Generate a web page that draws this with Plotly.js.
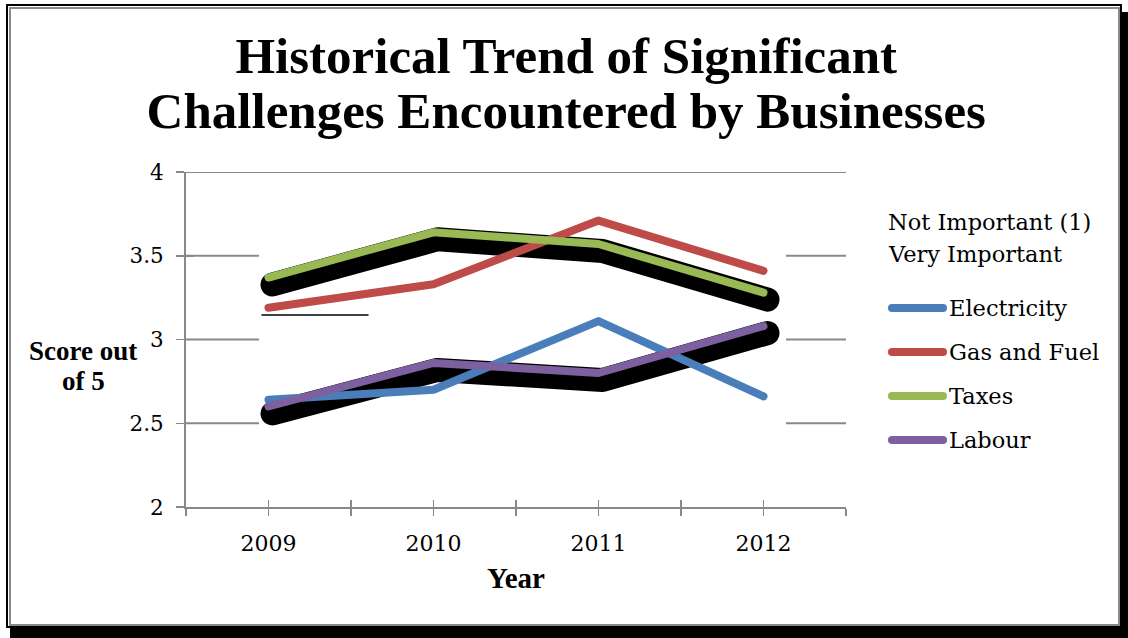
<!DOCTYPE html>
<html>
<head>
<meta charset="utf-8">
<script src="https://cdn.plot.ly/plotly-3.0.1.min.js"></script>
<style>
  html, body { margin: 0; padding: 0; background: #ffffff; }
  #chart { width: 1128px; height: 638px; }
  .scatterlayer path.js-line { stroke-linecap: round !important; stroke-linejoin: round !important; }
  .layer-above .shapelayer path { stroke-linecap: round !important; }
</style>
</head>
<body>
<div id="chart"></div>
<script>
// ---- data ----
var years = ['2009', '2010', '2011', '2012'];
var electricity = [2.64, 2.70, 3.11, 2.66];
var gasFuel = [3.19, 3.33, 3.71, 3.41];
var taxes = [3.37, 3.64, 3.57, 3.28];
var labour = [2.60, 2.86, 2.80, 3.08];
var seriesNames = ['Electricity', 'Gas and Fuel', 'Taxes', 'Labour'];
var seriesColors = ['#4A7EBB', '#BE4B48', '#98B954', '#7D60A0'];
var yTicks = [2, 2.5, 3, 3.5, 4];
var legendTitle = ['Not Important (1)', 'Very Important'];

// ---- layout geometry (pixels) ----
var W = 1128, H = 638;
var L = 186, R = 846, T = 172, B = 507;
function px(x) { return (x - L) / (R - L); }
function py(y) { return (B - y) / (B - T); }

var xIdx = years.map(function (_, i) { return i; });
var tickPos = [], tickTxt = [];
for (var i = 0; i < years.length; i++) {
  tickPos.push(i - 0.5); tickTxt.push('');
  tickPos.push(i); tickTxt.push(years[i]);
}
tickPos.push(years.length - 0.5); tickTxt.push('');

var allSeries = [electricity, gasFuel, taxes, labour];
var traces = [];
// shadows (drawn under, offset after render)
[2, 3].forEach(function (k) {
  traces.push({
    x: xIdx, y: allSeries[k], type: 'scatter', mode: 'lines',
    line: { color: '#000000', width: 24 }, hoverinfo: 'skip', showlegend: false,
    xaxis: 'x', yaxis: 'y'
  });
});
allSeries.forEach(function (s, k) {
  traces.push({
    x: xIdx, y: s, type: 'scatter', mode: 'lines', name: seriesNames[k],
    line: { color: seriesColors[k], width: 8 }, showlegend: false,
    xaxis: 'x2', yaxis: 'y2'
  });
});

var serif = 'DejaVu Serif, serif';
var serifB = 'Liberation Serif, Times New Roman, serif';
var gray = '#898989';

var shapes = [
  // chart frame shadow
  { type: 'rect', xref: 'paper', yref: 'paper', layer: 'below',
    x0: px(10), x1: px(1128), y0: py(12), y1: py(638),
    fillcolor: '#000000', line: { width: 0 } },
  { type: 'rect', xref: 'paper', yref: 'paper', layer: 'below',
    x0: px(7), x1: px(1121), y0: py(5), y1: py(627),
    fillcolor: '#ffffff', line: { color: '#000000', width: 2 } },
  { type: 'rect', xref: 'paper', yref: 'paper', layer: 'below',
    x0: px(10), x1: px(1119), y0: py(8), y1: py(625),
    fillcolor: 'rgba(0,0,0,0)', line: { color: '#8a8a8a', width: 2 } }
];
// gridlines: full at the top, only the outer parts visible elsewhere
var topTick = Math.max.apply(null, yTicks);
var botTick = Math.min.apply(null, yTicks);
yTicks.forEach(function (t) {
  if (t === botTick) return;
  if (t === topTick) {
    shapes.push({ type: 'line', xref: 'paper', yref: 'y', layer: 'below',
      x0: 0, x1: 1, y0: t, y1: t, line: { color: gray, width: 2 } });
  } else {
    shapes.push({ type: 'line', xref: 'paper', yref: 'y', layer: 'below',
      x0: 0, x1: px(259), y0: t, y1: t, line: { color: gray, width: 2 } });
    shapes.push({ type: 'line', xref: 'paper', yref: 'y', layer: 'below',
      x0: px(786), x1: 1, y0: t, y1: t, line: { color: gray, width: 2 } });
  }
});
// stray thin line
shapes.push({ type: 'line', xref: 'paper', yref: 'paper', layer: 'above',
  x0: px(262), x1: px(368), y0: py(315), y1: py(315),
  line: { color: '#000000', width: 1.5 } });

var annotations = [
  { text: '<b>Score out</b>', xref: 'paper', yref: 'paper', x: px(83), y: py(351),
    xanchor: 'center', yanchor: 'middle', showarrow: false, font: { family: serifB, size: 27, color: '#000' } },
  { text: '<b>of 5</b>', xref: 'paper', yref: 'paper', x: px(83), y: py(381),
    xanchor: 'center', yanchor: 'middle', showarrow: false, font: { family: serifB, size: 27, color: '#000' } },
  { text: legendTitle[0], xref: 'paper', yref: 'paper', x: px(886), y: py(222),
    xanchor: 'left', yanchor: 'middle', showarrow: false, font: { family: serif, size: 22.5, color: '#000' } },
  { text: legendTitle[1], xref: 'paper', yref: 'paper', x: px(886), y: py(254),
    xanchor: 'left', yanchor: 'middle', showarrow: false, font: { family: serif, size: 22.5, color: '#000' } }
];
seriesNames.forEach(function (n, k) {
  var yy = 308 + 44 * k;
  shapes.push({ type: 'line', xref: 'paper', yref: 'paper', layer: 'above',
    x0: px(892), x1: px(943), y0: py(yy), y1: py(yy),
    line: { color: seriesColors[k], width: 8 } });
  annotations.push({ text: n, xref: 'paper', yref: 'paper', x: px(947), y: py(yy),
    xanchor: 'left', yanchor: 'middle', showarrow: false, font: { family: serif, size: 22.5, color: '#000' } });
});

var layout = {
  width: W, height: H,
  margin: { l: L, r: W - R, t: T, b: H - B, pad: 0 },
  paper_bgcolor: '#ffffff', plot_bgcolor: 'rgba(0,0,0,0)',
  showlegend: false,
  title: { text: '<b>Historical Trend of Significant<br>Challenges Encountered by Businesses</b>',
    x: 0.502, xanchor: 'center', y: 0.886, yanchor: 'top', yref: 'container',
    font: { family: serifB, size: 51, color: '#000' } },
  xaxis: {
    range: [-0.5, years.length - 0.5], tickmode: 'array', tickvals: tickPos, ticktext: tickTxt,
    ticks: 'outside', ticklen: 7, tickwidth: 1.5, tickcolor: gray,
    showline: true, linecolor: gray, linewidth: 2, showgrid: false, zeroline: false,
    ticklabelstandoff: 9,
    tickfont: { family: serif, size: 22, color: '#000' },
    title: { text: '<b>Year</b>', standoff: 12, font: { family: serifB, size: 29, color: '#000' } },
    fixedrange: true
  },
  yaxis: {
    range: [2, 4], tickmode: 'array', tickvals: yTicks,
    ticks: 'outside', ticklen: 8, tickwidth: 1.5, tickcolor: gray,
    showline: true, linecolor: gray, linewidth: 2,
    showgrid: false, zeroline: false,
    ticklabelstandoff: 8,
    tickfont: { family: serif, size: 21.5, color: '#000' },
    fixedrange: true
  },
  xaxis2: {
    overlaying: 'x', anchor: 'y2', range: [-0.5, years.length - 0.5],
    tickmode: 'array', tickvals: tickPos, showticklabels: false,
    ticks: 'inside', ticklen: 7, tickwidth: 1.5, tickcolor: gray,
    showline: false, showgrid: false, zeroline: false, fixedrange: true
  },
  yaxis2: {
    overlaying: 'y', anchor: 'x2', side: 'left', range: [2, 4],
    tickmode: 'array', tickvals: yTicks, showticklabels: false,
    ticks: 'inside', ticklen: 8, tickwidth: 1.5, tickcolor: gray,
    showline: false, showgrid: false, zeroline: false, fixedrange: true
  },
  shapes: shapes,
  annotations: annotations
};

Plotly.newPlot('chart', traces, layout, { displayModeBar: false, staticPlot: true }).then(function () {
  // offset only the black shadow lines
  document.querySelectorAll('.scatterlayer path.js-line').forEach(function (p) {
    var c = (p.style.stroke || '').replace(/\s/g, '');
    if (c === 'rgb(0,0,0)' || c === '#000000') {
      var g = p.closest('g.trace');
      if (g) g.setAttribute('transform', 'translate(4,7)');
    }
  });
  // tighten the title line spacing
  var tsp = document.querySelectorAll('.gtitle tspan.line');
  if (tsp.length > 1) tsp[1].setAttribute('dy', '1.08em');
});
</script>
</body>
</html>
